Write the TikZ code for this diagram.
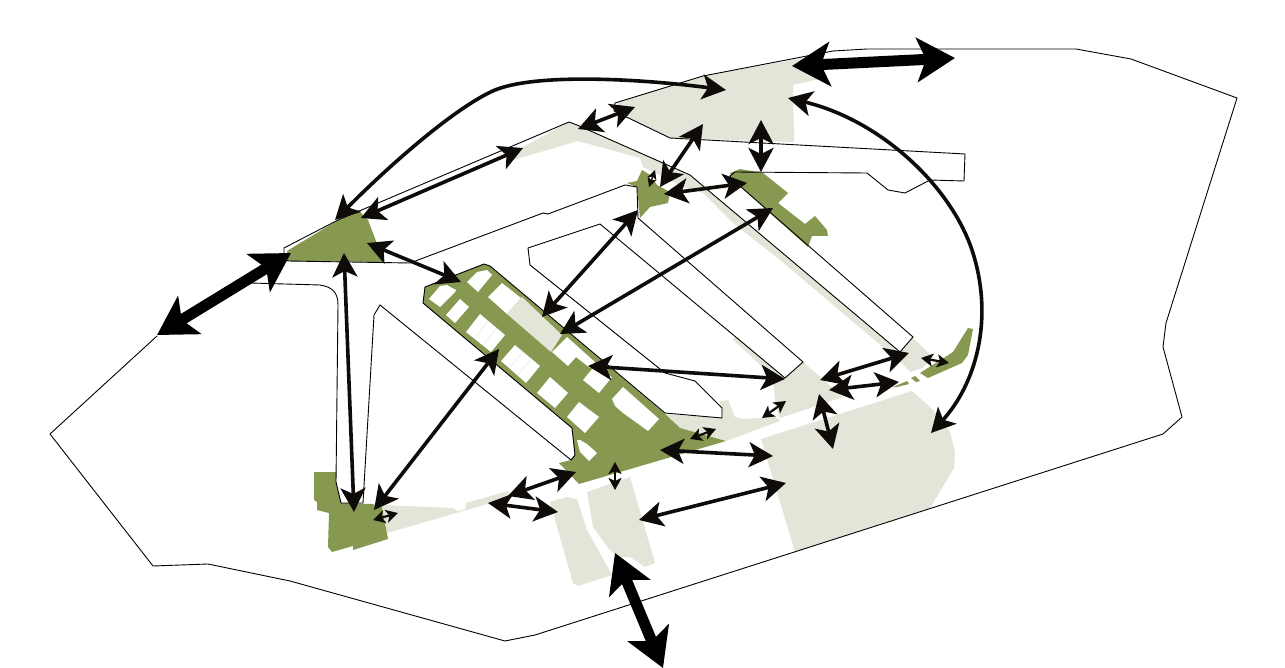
\documentclass[tikz,border=0pt]{standalone}
\usetikzlibrary{arrows.meta}
\definecolor{olive}{HTML}{879851}
\definecolor{pale}{HTML}{E2E5D8}
\definecolor{ink}{HTML}{0E0B08}
\tikzset{
  palearea/.style={fill=pale,draw=none},
  olivearea/.style={fill=olive,draw=none},
  lot/.style={fill=white,draw=none},
  lotline/.style={draw=pale,line width=0.4pt},
  outline/.style={draw=black,line width=0.9pt,line join=miter},
  biglink/.style={draw=black,line width=11pt,{Stealth[length=38pt,width=44pt,inset=9pt]}-{Stealth[length=38pt,width=44pt,inset=9pt]}},
  midlink/.style={draw=ink,line width=3.6pt,{Stealth[length=24pt,width=25pt,inset=6pt]}-{Stealth[length=24pt,width=25pt,inset=6pt]}},
  smalllink/.style={draw=ink,line width=2.2pt,{Stealth[length=12pt,width=13pt,inset=3pt]}-{Stealth[length=12pt,width=13pt,inset=3pt]}},
  tinylink/.style={draw=ink,line width=1.4pt,{Stealth[length=9pt,width=9pt,inset=2pt]}-{Stealth[length=9pt,width=9pt,inset=2pt]}},
}
\newcommand{\linkAB}[4]{\coordinate (#2a) at (#3); \coordinate (#2b) at (#4); \draw[#1] (#2a) -- (#2b);}
\begin{document}
\begin{tikzpicture}[x=1pt,y=-1pt]
\useasboundingbox (0,0) rectangle (1285,668);
\clip (0,0) rectangle (1285,668);
% pale areas
\fill[palearea] (618,102) -- (703,76) -- (810,57) -- (825,70) -- (819,79) -- (793,85) -- (794,142) -- (670,138) -- (617,113) -- cycle;
\fill[palearea] (513,160) -- (521,148) -- (569,122) -- (577,125) -- (690,175) -- (900,352) -- (913,338) -- (933,357) -- (922,368) -- (910,372) -- (902,363) -- (890,353) -- (780,260) -- (733,223) -- (703,193) -- (683,187) -- (643,167) -- (640,158) -- (578,141) -- cycle;
\fill[palearea] (732,339) -- (737,337) -- (785,378) -- (803,362) -- (843,397) -- (780,418) -- (779,417) -- (775,400) -- (773,378) -- (753,358) -- cycle;
\fill[palearea] (720,401) -- (728,400) -- (735,417) -- (745,419) -- (776,417) -- (780,421) -- (726,441) -- (680,428) -- (663,414) -- (722,418) -- cycle;
\fill[palearea] (761,439) -- (912,391) -- (933,410) -- (950,432) -- (955,452) -- (954,468) -- (930,508) -- (795,552) -- cycle;
\fill[palearea] (382,505) -- (453,508) -- (457,511) -- (465,510) -- (466,503) -- (508,491) -- (512,497) -- (387,533) -- cycle;
\fill[palearea] (550,502) -- (567,497) -- (577,499) -- (587,530) -- (612,575) -- (578,586) -- (573,583) -- cycle;
\fill[palearea] (587,492) -- (630,477) -- (655,563) -- (645,567) -- (630,557) -- (618,557) -- (608,548) -- (593,527) -- cycle;
% olive areas
\fill[olivearea] (314,472) -- (336,472) -- (336,482) -- (341,503) -- (372,504) -- (382,507) -- (388,539) -- (353,550) -- (353,546) -- (332,552) -- (328,547) -- (329,513) -- (317,510) -- (317,502) -- (314,500) -- cycle;
\fill[olivearea] (287,251) -- (335,222) -- (358,210) -- (368,220) -- (384,262) -- (288,261) -- cycle;
\fill[olivearea] (627,183) -- (637,181) -- (642,170) -- (650,175) -- (657,185) -- (670,192) -- (668,203) -- (650,207) -- (640,218) -- (637,187) -- cycle;
\fill[olivearea] (730,173) -- (740,169) -- (763,173) -- (788,193) -- (778,203) -- (805,224) -- (815,216) -- (827,230) -- (828,236) -- (812,236) -- (808,247) -- (733,180) -- cycle;
\fill[olivearea] (425,287) -- (484,264) -- (490,266) -- (664,413) -- (680,428) -- (726,441) -- (579,484) -- (559,463) -- (571,460) -- (575,455) -- (572,428) -- (423,303) -- cycle;
\fill[olivearea] (893,387) -- (907,381) -- (909,384) -- (897,387) -- cycle;
\fill[olivearea] (911,378) -- (915,376) -- (920,381) -- (916,382) -- cycle;
\fill[olivearea] (920,373) -- (953,352) -- (968,328) -- (973,329) -- (968,355) -- (962,363) -- (928,378) -- cycle;
% lots
\fill[lot] (467,282) -- (477,272) -- (487,270) -- (492,275) -- (478,292) -- cycle;
\fill[lot] (429,299) -- (440,286) -- (447,285) -- (452,288) -- (456,290) -- (455,292) -- (440,307) -- cycle;
\fill[lot] (446,315) -- (460,299) -- (469,307) -- (455,323) -- cycle;
\fill[lot] (488,297) -- (502,283) -- (521,298) -- (507,314) -- cycle;
\fill[lot] (466,332) -- (480,314) -- (505,335) -- (491,352) -- cycle;
\fill[palearea] (507,314) -- (522,297) -- (562,335) -- (551,352) -- cycle;
\fill[lot] (501,361) -- (515,345) -- (540,366) -- (526,383) -- cycle;
\fill[lot] (537,393) -- (550,377) -- (568,393) -- (555,408) -- cycle;
\fill[lot] (552,352) -- (567,337) -- (595,362) -- (590,368) -- (576,357) -- (568,366) -- cycle;
\fill[lot] (583,380) -- (593,368) -- (612,377) -- (599,393) -- cycle;
\fill[lot] (567,417) -- (579,402) -- (599,417) -- (585,433) -- cycle;
\fill[lot] (612,399) -- (623,387) -- (659,419) -- (648,431) -- (637,423) -- (623,413) -- (615,406) -- cycle;
\fill[lot] (577,440) -- (580,440) -- (587,444) -- (597,453) -- (589,461) -- (580,452) -- cycle;
\draw[lotline] (488,321) -- (474,339) (497,328) -- (483,345) (523,352) -- (509,368) (532,358) -- (518,375);
\fill[white] (652,177) circle (2.5);
% outline
\draw[outline] (250,283) -- (320,285) .. controls (332,287) and (338,292) .. (338,305) -- (336,482) -- (341,503) -- (363,503) -- (374,315) -- (380,305) -- (571,460) -- (575,455) -- (572,428) -- (423,303) -- (425,287) -- (484,264) -- (490,266) -- (665,413) -- (722,418) -- (722,408) -- (695,381) -- (665,373) -- (530,265) -- (528,248) -- (600,224) -- (785,378) -- (803,362) -- (638,218) -- (637,187) -- (625,185) -- (548,214) -- (543,213) -- (410,263) -- (288,261) -- (284,258) -- (284,248) -- (338,220) -- (569,122) -- (577,125) -- (690,175) -- (900,352) -- (913,337) -- (733,180) -- (730,176) -- (735,172) -- (867,173) -- (888,190) -- (905,193) -- (930,180) -- (964,181) -- (965,154) -- (670,138) -- (614,111) -- (615,103) -- (703,76) -- (807,56) -- (833,51) -- (867,49) -- (1076,49) -- (1131,59) -- (1237,98) -- (1166,323) -- (1163,347) -- (1182,417) -- (1163,434) -- (535,635) -- (505,641) -- (290,581) -- (208,564) -- (153,566) -- (50,434) -- (157,336);
% big links
\linkAB{biglink}{ba}{157,335}{291,253}
\linkAB{biglink}{bb}{792,66}{955,58}
\linkAB{biglink}{bc}{615,553}{663,668}
% curved links
\coordinate (ca) at (335,220); \coordinate (cb) at (726,90);
\draw[midlink] (ca) .. controls (400,155) and (460,105) .. (495,90) .. controls (540,72) and (650,80) .. (cb);
\coordinate (da) at (788,98); \coordinate (db) at (931,433);
\draw[midlink] (da) .. controls (880,120) and (950,185) .. (972,250) .. controls (995,320) and (975,385) .. (db);
% medium links
\linkAB{midlink}{m1}{361,218}{523,148}
\linkAB{midlink}{m2}{367,243}{461,282}
\linkAB{midlink}{m3}{344,253}{354,512}
\linkAB{midlink}{m4}{374,510}{499,349}
\linkAB{midlink}{m5}{578,129}{635,107}
\linkAB{midlink}{m6}{660,187}{703,124}
\linkAB{midlink}{m7}{761,120}{761,172}
\linkAB{midlink}{m8}{664,194}{747,183}
\linkAB{midlink}{m9}{542,317}{638,210}
\linkAB{midlink}{m10}{560,334}{773,208}
\linkAB{midlink}{m11}{588,366}{785,379}
\linkAB{midlink}{m12}{820,380}{909,353}
\linkAB{midlink}{m13}{829,390}{899,382}
\linkAB{midlink}{m14}{819,394}{833,449}
\linkAB{midlink}{m15}{660,450}{773,456}
\linkAB{midlink}{m16}{639,520}{786,483}
\linkAB{midlink}{m17}{508,496}{576,472}
\linkAB{midlink}{m18}{488,503}{558,512}
% small links
\linkAB{smalllink}{s1}{921,358}{949,363}
\linkAB{smalllink}{s2}{762,418}{786,401}
\linkAB{smalllink}{s3}{690,439}{716,429}
\linkAB{smalllink}{s4}{615,462}{615,490}
\linkAB{smalllink}{s5}{373,520}{398,513}
\linkAB{tinylink}{t1}{649,187}{655,170}
\end{tikzpicture}
\end{document}
